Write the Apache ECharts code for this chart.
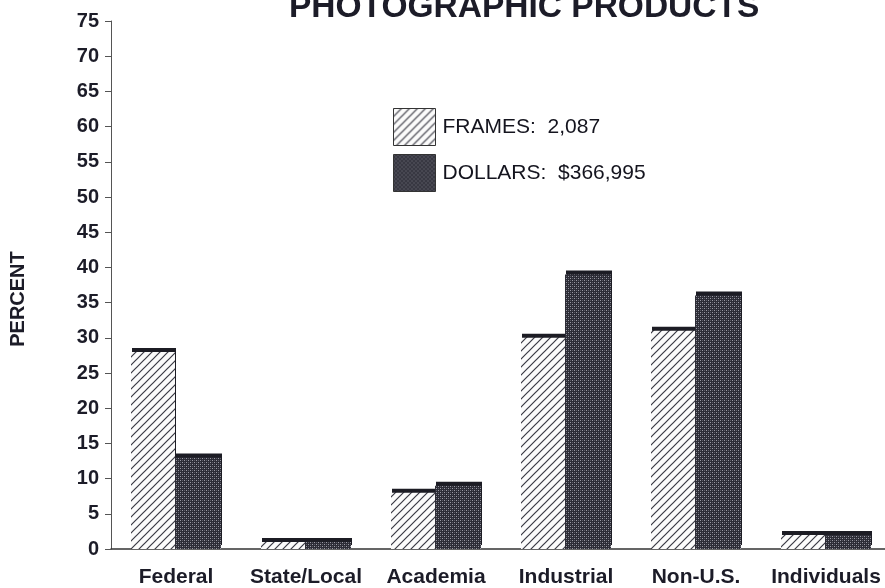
<!DOCTYPE html>
<html>
<head>
<meta charset="utf-8">
<script src="https://cdn.jsdelivr.net/npm/echarts@6/dist/echarts.min.js"></script>
<style>
html,body{margin:0;padding:0;background:#ffffff;}
#main{width:885px;height:588px;}
</style>
</head>
<body>
<div id="main"></div>
<script>
var categories = ['Federal', 'State/Local', 'Academia', 'Industrial', 'Non-U.S.', 'Individuals'];
var framesValues = [28, 1, 8, 30, 31, 2];
var dollarsValues = [13, 1, 9, 39, 36, 2];
var framesName = 'FRAMES:  2,087';
var dollarsName = 'DOLLARS:  $366,995';
var yTicks = [0, 5, 10, 15, 20, 25, 30, 35, 40, 45, 50, 55, 60, 65, 70, 75];

function hatchPattern() {
  var c = document.createElement('canvas');
  c.width = 8; c.height = 8;
  var g = c.getContext('2d');
  g.fillStyle = '#fbfbfb';
  g.fillRect(0, 0, 8, 8);
  g.strokeStyle = '#3a3a44';
  g.lineWidth = 1.2;
  g.beginPath();
  g.moveTo(-1, 9); g.lineTo(9, -1);
  g.moveTo(-5, 5); g.lineTo(5, -5);
  g.moveTo(3, 13); g.lineTo(13, 3);
  g.stroke();
  return c;
}
function stipplePattern() {
  var c = document.createElement('canvas');
  c.width = 4; c.height = 4;
  var g = c.getContext('2d');
  g.fillStyle = '#2c2c36';
  g.fillRect(0, 0, 4, 4);
  g.fillStyle = '#9a9aa4';
  g.fillRect(0, 0, 1, 1);
  g.fillRect(2, 2, 1, 1);
  g.fillStyle = '#5c5c66';
  g.fillRect(2, 0, 1, 1);
  g.fillRect(0, 2, 1, 1);
  return c;
}

var chart = echarts.init(document.getElementById('main'), null, {renderer: 'canvas'});
var textColor = '#1c1c28';
var font = 'Liberation Sans, Arial, Helvetica, sans-serif';

var barStyleCommon = {
  borderWidth: 0,
  shadowColor: '#1c1c24',
  shadowBlur: 0,
  shadowOffsetX: 1,
  shadowOffsetY: -4
};

chart.setOption({
  backgroundColor: '#ffffff',
  animation: false,
  title: {
    text: 'PHOTOGRAPHIC PRODUCTS',
    left: 284,
    top: -14,
    textStyle: {fontFamily: font, fontWeight: 'bold', fontSize: 33.5, color: textColor}
  },
  legend: {
    orient: 'vertical',
    left: 388,
    top: 103,
    icon: 'rect',
    itemWidth: 42,
    itemHeight: 37,
    itemGap: 8,
    textStyle: {fontFamily: font, fontSize: 21, color: '#14141e', padding: [0, 0, 0, 2]},
    data: [
      {name: framesName, itemStyle: {borderColor: '#333', borderWidth: 1, shadowBlur: 0, shadowOffsetX: 0, shadowOffsetY: 0}},
      {name: dollarsName, itemStyle: {borderColor: '#333', borderWidth: 1, shadowBlur: 0, shadowOffsetX: 0, shadowOffsetY: 0}}
    ]
  },
  grid: {left: 111, width: 780, top: 21, bottom: 39, outerBoundsMode: 'none', containLabel: false},
  xAxis: {
    type: 'category',
    data: categories,
    axisLine: {lineStyle: {color: '#333', width: 1.5}},
    axisTick: {alignWithLabel: true, length: 5, lineStyle: {color: '#555'}},
    axisLabel: {fontFamily: font, fontWeight: 'bold', fontSize: 21, color: textColor, margin: 18, interval: 0}
  },
  yAxis: {
    type: 'value',
    min: yTicks[0],
    max: yTicks[yTicks.length - 1],
    interval: yTicks[1] - yTicks[0],
    name: 'PERCENT',
    nameLocation: 'middle',
    nameGap: 83,
    nameRotate: 90,
    nameTextStyle: {fontFamily: font, fontWeight: 'bold', fontSize: 20, color: textColor, padding: [0, 28, 0, 0]},
    axisLine: {show: true, lineStyle: {color: '#555', width: 1}},
    axisTick: {show: true, inside: false, length: 6, lineStyle: {color: '#555'}},
    splitLine: {show: false},
    axisLabel: {fontFamily: font, fontWeight: 'bold', fontSize: 20, color: textColor, margin: 12}
  },
  series: [
    {
      name: framesName,
      type: 'bar',
      data: framesValues,
      barWidth: 44,
      barGap: '0%',
      itemStyle: Object.assign({color: {image: hatchPattern(), repeat: 'repeat'}}, barStyleCommon)
    },
    {
      name: dollarsName,
      type: 'bar',
      data: dollarsValues,
      barWidth: 46,
      barGap: '0%',
      itemStyle: Object.assign({color: {image: stipplePattern(), repeat: 'repeat'}}, barStyleCommon)
    }
  ]
});
</script>
</body>
</html>
